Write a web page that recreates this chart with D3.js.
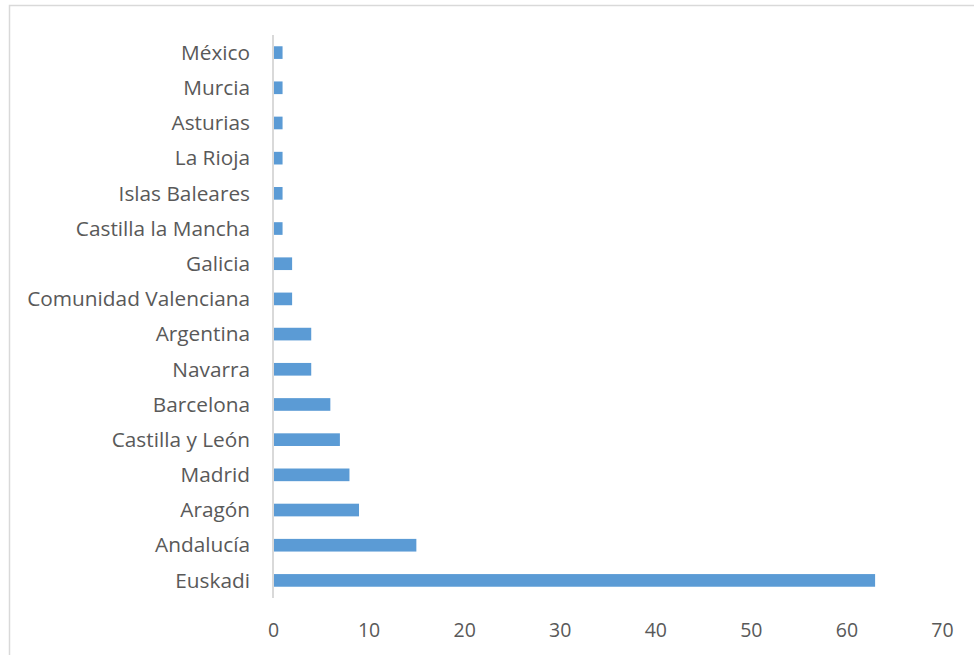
<!DOCTYPE html>
<html>
<head>
<meta charset="utf-8">
<script src="https://cdn.jsdelivr.net/npm/d3@7"></script>
<style>
  html, body { margin: 0; padding: 0; background: #fff; }
  svg { display: block; }
  text { font-family: "Open Sans", "Noto Sans", sans-serif; fill: #595959; }
</style>
</head>
<body>
<svg id="chart" width="974" height="655"></svg>
<script>
// Regions, listed top to bottom as drawn
const categories = [
  "México", "Murcia", "Asturias", "La Rioja", "Islas Baleares",
  "Castilla la Mancha", "Galicia", "Comunidad Valenciana", "Argentina",
  "Navarra", "Barcelona", "Castilla y León", "Madrid", "Aragón",
  "Andalucía", "Euskadi"
];
const values = [1, 1, 1, 1, 1, 1, 2, 2, 4, 4, 6, 7, 8, 9, 15, 63];
const xTicks = [0, 10, 20, 30, 40, 50, 60, 70];

const svg = d3.select("#chart");

// Chart frame
svg.append("path")
  .attr("d", "M9.5,655 L9.5,5.5 L974,5.5")
  .attr("fill", "none")
  .attr("stroke", "#d9d9d9")
  .attr("stroke-width", 1.5);

const x = d3.scaleLinear().domain([0, 70]).range([273, 942]);
const y = d3.scaleBand().domain(categories).range([35, 598]).paddingInner(0.64).paddingOuter(0.32);

// Bars
svg.append("g").selectAll("rect")
  .data(categories)
  .join("rect")
  .attr("x", x(0))
  .attr("y", d => y(d))
  .attr("width", (d, i) => x(values[i]) - x(0))
  .attr("height", y.bandwidth())
  .attr("fill", "#5b9bd5");

// Category axis line
svg.append("line")
  .attr("x1", x(0)).attr("x2", x(0))
  .attr("y1", 35).attr("y2", 598)
  .attr("stroke", "#d9d9d9")
  .attr("stroke-width", 2);

// Category labels
svg.append("g").selectAll("text")
  .data(categories)
  .join("text")
  .attr("x", 250)
  .attr("y", d => y(d) + y.bandwidth() / 2)
  .attr("dy", "0.35em")
  .attr("text-anchor", "end")
  .attr("font-size", 20.8)
  .text(d => d);

// Value axis labels
const xAxis = d3.axisBottom(x).tickValues(xTicks).tickSize(0).tickPadding(0);
const gx = svg.append("g").attr("transform", "translate(0,622)").call(xAxis);
gx.select(".domain").remove();
gx.selectAll("text")
  .attr("font-size", 19.5)
  .attr("font-family", "\"Open Sans\", sans-serif")
  .attr("fill", "#595959")
  .attr("dy", "0.35em")
  .attr("y", 8);
</script>
</body>
</html>
